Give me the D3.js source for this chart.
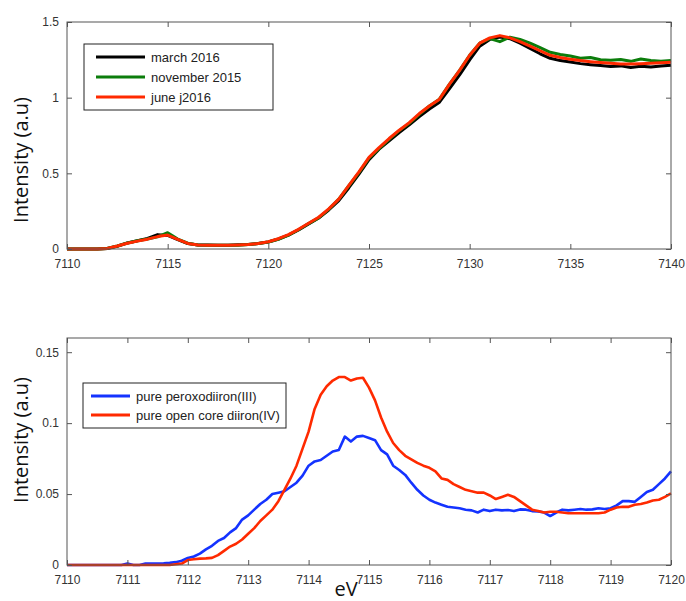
<!DOCTYPE html>
<html>
<head>
<meta charset="utf-8">
<script src="https://cdn.jsdelivr.net/npm/d3@7"></script>
<style>
  body { margin: 0; background: #fff; }
  text { font-family: "Liberation Sans", Arial, sans-serif; }
</style>
</head>
<body>
<svg id="chart"></svg>
<script>
// ---- top panel data (0.5 eV sampling) ----
const topEnergy = d3.range(0, 61).map(i => 7110 + i * 0.5);
const june2016 = [0, 0, 0, 0, 0.004, 0.02, 0.038, 0.052, 0.065, 0.082,
  0.092, 0.064, 0.037, 0.026, 0.024, 0.024, 0.024, 0.026, 0.029, 0.037,
  0.048, 0.068, 0.095, 0.13, 0.17, 0.21, 0.265, 0.33, 0.42, 0.51,
  0.605, 0.67, 0.73, 0.785, 0.835, 0.895, 0.945, 0.99, 1.09, 1.18,
  1.28, 1.36, 1.395, 1.41, 1.395, 1.37, 1.34, 1.31, 1.28, 1.265,
  1.254, 1.245, 1.238, 1.232, 1.227, 1.223, 1.222, 1.224, 1.227, 1.23, 1.234];
const march2016 = [0, 0, 0, 0, 0.003, 0.018, 0.04, 0.055, 0.07, 0.095,
  0.09, 0.062, 0.036, 0.027, 0.026, 0.025, 0.024, 0.028, 0.03, 0.036,
  0.046, 0.066, 0.092, 0.126, 0.166, 0.205, 0.258, 0.32, 0.405, 0.495,
  0.59, 0.66, 0.715, 0.77, 0.82, 0.875, 0.925, 0.97, 1.06, 1.15,
  1.25, 1.34, 1.385, 1.4, 1.39, 1.36, 1.325, 1.29, 1.26, 1.245,
  1.235, 1.225, 1.218, 1.212, 1.206, 1.21, 1.2, 1.208, 1.202, 1.21, 1.215];
const november2015 = [0, 0, 0, 0, 0.004, 0.02, 0.04, 0.055, 0.066, 0.08,
  0.108, 0.066, 0.038, 0.027, 0.025, 0.024, 0.025, 0.025, 0.03, 0.036,
  0.046, 0.064, 0.092, 0.127, 0.168, 0.206, 0.262, 0.33, 0.418, 0.505,
  0.6, 0.663, 0.725, 0.782, 0.83, 0.89, 0.945, 0.99, 1.09, 1.18,
  1.28, 1.36, 1.39, 1.37, 1.4, 1.385, 1.36, 1.33, 1.3, 1.285,
  1.275, 1.26, 1.265, 1.25, 1.248, 1.252, 1.24, 1.255, 1.245, 1.24, 1.245];
const topYTicks = [0, 0.5, 1, 1.5];
const topXTicks = [7110, 7115, 7120, 7125, 7130, 7135, 7140];

// ---- bottom panel data (0.1 eV sampling) ----
const botEnergy = d3.range(0, 101).map(i => +(7110 + i * 0.1).toFixed(1));
const peroxo = [0, 0, 0, 0, 0, 0, 0, 0, 0, 0,
  0.001, 0, 0, 0.001, 0.001, 0.001, 0.0012, 0.0015, 0.002, 0.003,
  0.005, 0.006, 0.008, 0.011, 0.0135, 0.017, 0.019, 0.023, 0.026, 0.032,
  0.035, 0.039, 0.043, 0.046, 0.05, 0.051, 0.052, 0.055, 0.058, 0.063,
  0.07, 0.073, 0.074, 0.077, 0.08, 0.081, 0.0905, 0.087, 0.0905, 0.091,
  0.0895, 0.088, 0.081, 0.078, 0.07, 0.067, 0.0635, 0.058, 0.053, 0.049,
  0.046, 0.044, 0.0425, 0.041, 0.0405, 0.04, 0.039, 0.0385, 0.037, 0.039,
  0.038, 0.039, 0.0385, 0.0388, 0.038, 0.0392, 0.039, 0.038, 0.0378, 0.037,
  0.0345, 0.037, 0.039, 0.0385, 0.039, 0.0395, 0.039, 0.0392, 0.04, 0.0395,
  0.04, 0.042, 0.045, 0.045, 0.0445, 0.048, 0.0515, 0.053, 0.057, 0.061, 0.066];
const openCore = [0, 0, 0, 0, 0, 0, 0, 0, 0, 0,
  0, 0, 0, 0, 0, 0, 0, 0, 0.0005, 0.001,
  0.0035, 0.004, 0.0045, 0.0047, 0.005, 0.007, 0.01, 0.013, 0.015, 0.018,
  0.022, 0.026, 0.031, 0.035, 0.039, 0.045, 0.053, 0.061, 0.07, 0.082,
  0.094, 0.11, 0.12, 0.126, 0.13, 0.1325, 0.1325, 0.13, 0.1315, 0.132,
  0.125, 0.116, 0.104, 0.094, 0.086, 0.081, 0.077, 0.0745, 0.072, 0.07,
  0.0685, 0.066, 0.061, 0.06, 0.057, 0.055, 0.053, 0.052, 0.051, 0.051,
  0.049, 0.0465, 0.048, 0.0495, 0.048, 0.045, 0.042, 0.039, 0.038, 0.037,
  0.0375, 0.0375, 0.037, 0.0365, 0.0365, 0.0365, 0.0365, 0.0365, 0.0365, 0.037,
  0.039, 0.0405, 0.041, 0.041, 0.0425, 0.043, 0.044, 0.0455, 0.046, 0.048, 0.0505];
const botYTicks = [0, 0.05, 0.1, 0.15];
const botXTicks = d3.range(7110, 7121);

const width = 686, height = 601;
const svg = d3.select("#chart").attr("width", width).attr("height", height);

const frameColor = "#555";
const labelColor = "#333";

function panel(opts) {
  const { left, right, top, bottom, xDomain, yDomain, xTicks, yTicks, yFmt } = opts;
  const x = d3.scaleLinear().domain(xDomain).range([left, right]);
  const y = d3.scaleLinear().domain(yDomain).range([bottom, top]);
  const g = svg.append("g");

  // series
  opts.series.forEach(s => {
    const line = d3.line().x((d, i) => x(s.x[i])).y(d => y(d));
    g.append("path")
      .datum(s.values)
      .attr("fill", "none")
      .attr("stroke", s.color)
      .attr("stroke-width", s.width)
      .attr("stroke-linejoin", "round")
      .attr("d", line);
  });

  // ticks inward on all four sides
  const tl = 5;
  const axB = d3.axisBottom(x).tickValues(xTicks).tickSizeInner(-tl).tickSizeOuter(0).tickPadding(10).tickFormat(d3.format("d"));
  const axT = d3.axisTop(x).tickValues(xTicks).tickSizeInner(-tl).tickSizeOuter(0).tickFormat("");
  const axL = d3.axisLeft(y).tickValues(yTicks).tickSizeInner(-tl).tickSizeOuter(0).tickPadding(8).tickFormat(yFmt);
  const axR = d3.axisRight(y).tickValues(yTicks).tickSizeInner(-tl).tickSizeOuter(0).tickFormat("");

  [[axB, `translate(0,${bottom})`], [axT, `translate(0,${top})`],
   [axL, `translate(${left},0)`], [axR, `translate(${right},0)`]].forEach(([ax, tr]) => {
    const a = g.append("g").attr("transform", tr).call(ax);
    a.select(".domain").remove();
    a.selectAll("line").attr("stroke", frameColor);
    a.selectAll("text").attr("fill", labelColor).style("font-size", "12px");
  });

  g.append("rect")
    .attr("x", left).attr("y", top)
    .attr("width", right - left).attr("height", bottom - top)
    .attr("fill", "none").attr("stroke", frameColor).attr("stroke-width", 1);

  // legend
  const L = opts.legend;
  const lg = g.append("g");
  lg.append("rect")
    .attr("x", L.x).attr("y", L.y).attr("width", L.w).attr("height", L.h)
    .attr("fill", "#fff").attr("stroke", "#222").attr("stroke-width", 1);
  L.items.forEach((it, i) => {
    const yy = L.y + L.first + i * L.step;
    lg.append("line")
      .attr("x1", L.x + L.lineX0).attr("x2", L.x + L.lineX1)
      .attr("y1", yy).attr("y2", yy)
      .attr("stroke", it.color).attr("stroke-width", L.lw);
    lg.append("text")
      .attr("x", L.x + L.textX).attr("y", yy + 4.5)
      .attr("fill", "#222").style("font-size", "13px")
      .text(it.label);
  });

  // y title
  svg.append("text")
    .attr("transform", `translate(${opts.yTitleX},${opts.yTitleY}) rotate(-90)`)
    .attr("text-anchor", "middle")
    .style("font-family", "'Open Sans', sans-serif")
    .style("font-size", "20px")
    .attr("fill", "#111")
    .text("Intensity (a.u)");
}

panel({
  left: 67, right: 671, top: 22, bottom: 249,
  xDomain: [7110, 7140], yDomain: [0, 1.5],
  xTicks: topXTicks, yTicks: topYTicks, yFmt: d3.format("~g"),
  series: [
    { x: topEnergy, values: march2016, color: "#000", width: 3 },
    { x: topEnergy, values: november2015, color: "#0b7d0b", width: 3 },
    { x: topEnergy, values: june2016, color: "#ff2a00", width: 3 }
  ],
  legend: {
    x: 84, y: 44, w: 189, h: 66, first: 13, step: 20,
    lineX0: 12, lineX1: 61, textX: 67, lw: 3,
    items: [
      { label: " march 2016", color: "#000" },
      { label: "november 2015", color: "#0b7d0b" },
      { label: "june j2016", color: "#ff2a00" }
    ]
  },
  yTitleX: 28, yTitleY: 160
});

panel({
  left: 67, right: 671, top: 338, bottom: 565,
  xDomain: [7110, 7120], yDomain: [0, 0.16],
  xTicks: botXTicks, yTicks: botYTicks, yFmt: d3.format("~g"),
  series: [
    { x: botEnergy, values: peroxo, color: "#1433ff", width: 2.6 },
    { x: botEnergy, values: openCore, color: "#ff2a00", width: 2.6 }
  ],
  legend: {
    x: 83, y: 383, w: 203, h: 45, first: 13, step: 19,
    lineX0: 8, lineX1: 47, textX: 53, lw: 3,
    items: [
      { label: "pure peroxodiiron(III)", color: "#1433ff" },
      { label: "pure open core diiron(IV)", color: "#ff2a00" }
    ]
  },
  yTitleX: 28, yTitleY: 440
});

svg.append("text")
  .attr("x", 346).attr("y", 596)
  .attr("text-anchor", "middle")
  .style("font-family", "'Open Sans', sans-serif")
  .style("font-size", "20px")
  .attr("fill", "#111")
  .text("eV");
</script>
</body>
</html>
